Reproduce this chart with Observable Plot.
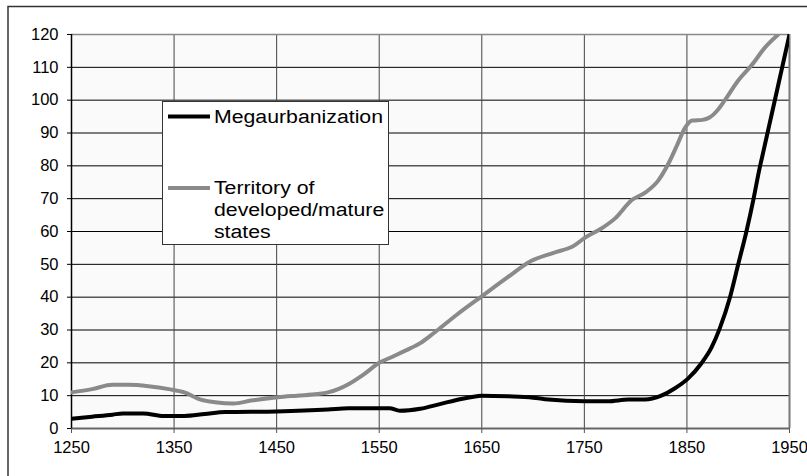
<!DOCTYPE html>
<html>
<head>
<meta charset="utf-8">
<script src="https://cdn.jsdelivr.net/npm/d3@7"></script>
<script src="https://cdn.jsdelivr.net/npm/@observablehq/plot@0.6"></script>
<style>
  html, body { margin: 0; padding: 0; background: #fff; }
  #chart { position: relative; width: 807px; height: 476px; }
</style>
</head>
<body>
<div id="chart"></div>
<script>
// ---- Data ----
const megaYears = [1250,1270,1290,1300,1320,1340,1360,1380,1400,1450,1500,1520,1560,1570,1590,1610,1630,1645,1650,1676,1700,1715,1750,1773,1793,1809,1825,1838,1851,1864,1874,1882,1892,1900,1908,1915,1920,1925,1930,1935,1940,1945,1950];
const megaValues = [3,3.6,4.2,4.6,4.6,3.8,3.8,4.4,5,5.2,5.8,6.2,6.2,5.4,6,7.5,9,9.8,10,9.8,9.4,8.8,8.3,8.3,8.8,8.8,10,12.2,15.2,19.8,24.7,30.5,40,50,60,70,78,85,92,99,106,113,120];

const terrYears = [1250,1270,1290,1305,1325,1345,1360,1376,1390,1408,1425,1451,1470,1490,1500,1510,1520,1535,1550,1564,1576,1590,1603,1625,1651,1675,1698,1720,1740,1750,1767,1780,1796,1810,1822,1832,1840,1848,1855,1865,1872,1880,1887,1900,1913,1926,1939];
const terrValues = [11,12,13.3,13.3,12.9,12,11,8.8,8,7.6,8.5,9.5,10,10.5,11,12,13.5,16.5,20,22,23.8,26,29,34.5,40.5,46,51,53.5,55.7,58,61,64,69.5,72,75.5,80.7,86,91.5,93.8,94,94.7,97,100,106,110.6,116,120];

const xTicks = [1250,1350,1450,1550,1650,1750,1850,1950];
const yTicks = [0,10,20,30,40,50,60,70,80,90,100,110,120];

const seriesNames = ["Megaurbanization", "Territory of developed/mature states"];
const legendLines = [["Megaurbanization"], ["Territory of", "developed/mature", "states"]];

// ---- Tables built from arrays ----
const mega = megaYears.map((y, i) => ({year: y, value: megaValues[i]}));
const terr = terrYears.map((y, i) => ({year: y, value: terrValues[i]}));

const svg = Plot.plot({
  width: 807,
  height: 476,
  marginLeft: 71,
  marginRight: 18,
  marginTop: 34,
  marginBottom: 48,
  style: {background: "#fff", fontFamily: "'Liberation Sans', Arial, sans-serif", fontSize: "16px", color: "#000"},
  x: {domain: [1250, 1950], label: null},
  y: {domain: [0, 120], label: null},
  marks: [
    Plot.frame({fill: "#fafafa", stroke: null}),
    Plot.ruleY(yTicks.filter(d => d > 0 && d < 120), {stroke: "#000", strokeWidth: 1}),
    Plot.ruleX(xTicks.filter(d => d > 1250 && d < 1950), {stroke: "#444", strokeWidth: 1}),
    Plot.ruleY([120], {stroke: "#888", strokeWidth: 1.5}),
    Plot.ruleX([1950], {stroke: "#777", strokeWidth: 2}),
    Plot.ruleY([0], {stroke: "#666", strokeWidth: 2}),
    Plot.ruleX([1250], {stroke: "#000", strokeWidth: 1.5}),
    Plot.line(terr, {x: "year", y: "value", stroke: "#8a8a8a", strokeWidth: 4, curve: "monotone-x", clip: true}),
    Plot.line(mega, {x: "year", y: "value", stroke: "#000", strokeWidth: 4, curve: "monotone-x", clip: true}),
    Plot.axisY({ticks: yTicks, tickSize: 4, tickPadding: 9, tickFormat: d => String(d), fontSize: 16.5, stroke: "#000", label: null}),
    Plot.axisX({ticks: xTicks, tickSize: 5, tickPadding: 8, tickFormat: d => String(d), fontSize: 16.5, stroke: "#555", label: null})
  ]
});

document.getElementById("chart").appendChild(svg);

// ---- Outer border (left and top visible) ----
const s = d3.select(svg);
s.append("path")
  .attr("d", "M8,480 L8,6.5 L812,6.5")
  .attr("fill", "none")
  .attr("stroke", "#333")
  .attr("stroke-width", 1.5);

// ---- Legend ----
const lg = s.append("g")
  .attr("font-family", "'Liberation Sans', Arial, sans-serif")
  .attr("font-size", 19)
  .attr("text-anchor", "start");
lg.append("rect")
  .attr("x", 162.5).attr("y", 101.5).attr("width", 226).attr("height", 143)
  .attr("fill", "#fff").attr("stroke", "#333").attr("stroke-width", 1);
const legendColors = ["#000", "#8a8a8a"];
const legendY = [116.5, 188];
legendLines.forEach((lines, i) => {
  lg.append("line")
    .attr("x1", 168).attr("x2", 210)
    .attr("y1", legendY[i]).attr("y2", legendY[i])
    .attr("stroke", legendColors[i]).attr("stroke-width", 4);
  const t = lg.append("text")
    .attr("x", 214).attr("y", legendY[i] + 6.5).attr("fill", "#000")
    .attr("transform", "translate(214,0) scale(1.12,1) translate(-214,0)");
  lines.forEach((ln, j) => {
    t.append("tspan").attr("x", 214).attr("dy", j === 0 ? 0 : 22).text(ln);
  });
});
</script>
</body>
</html>
